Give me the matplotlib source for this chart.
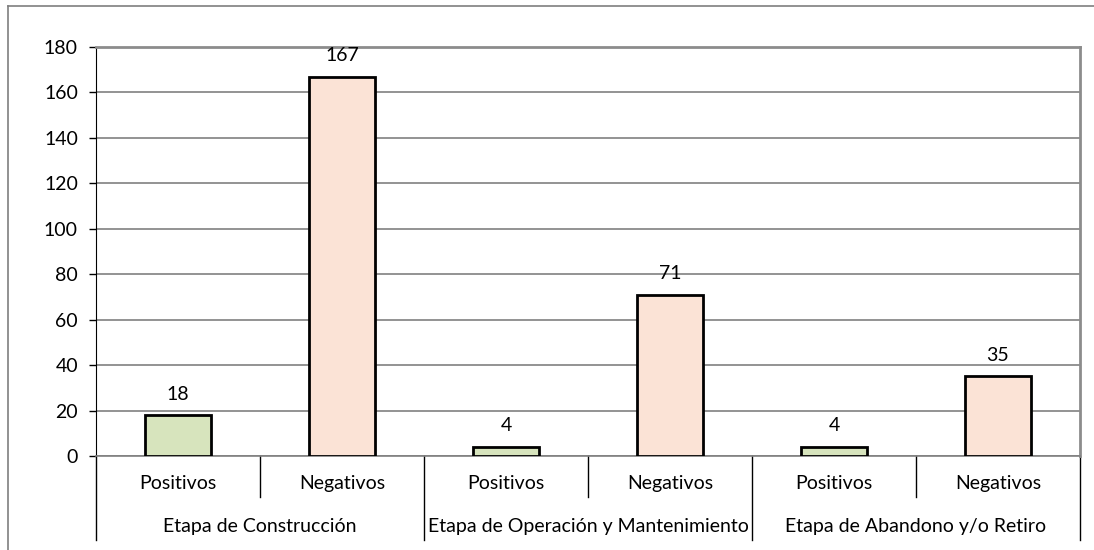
import matplotlib.pyplot as plt
import matplotlib.transforms as mtransforms

stages = ["Etapa de Construcción", "Etapa de Operación y Mantenimiento", "Etapa de Abandono y/o Retiro"]
kinds = ["Positivos", "Negativos"]
positivos = [18, 4, 4]
negativos = [167, 71, 35]
y_ticks = [0, 20, 40, 60, 80, 100, 120, 140, 160, 180]

green = "#D7E4BD"
peach = "#FBE3D6"

plt.rcParams["font.family"] = ["Lato", "DejaVu Sans"]
fs = 14

fig = plt.figure(figsize=(10.94, 5.5), dpi=100)
W, H = 1094, 550
ax = fig.add_axes([96 / W, 1 - 456 / H, (1080 - 96) / W, (456 - 47) / H])

values = []
colors = []
labels = []
for p, n in zip(positivos, negativos):
    values += [p, n]
    colors += [green, peach]
    labels += kinds
xs = list(range(len(values)))

ax.bar(xs, values, width=0.4, color=colors, edgecolor="black", linewidth=2, zorder=3)
for x, v in zip(xs, values):
    ax.annotate(str(v), (x, v), xytext=(0, 9), textcoords="offset points",
                ha="center", va="bottom", fontsize=fs)

ax.set_xlim(-0.5, len(values) - 0.5)
ax.set_ylim(0, 180)
ax.set_yticks(y_ticks)
ax.tick_params(axis="y", labelsize=fs, length=5, width=1, direction="out", pad=8)
ax.yaxis.grid(True, color="#808080", linewidth=1.2, zorder=0)
ax.set_xticks(xs)
ax.set_xticklabels(labels, fontsize=fs)
ax.tick_params(axis="x", length=0, pad=14)

for s in ["top", "right"]:
    ax.spines[s].set_color("#8c8c8c")
    ax.spines[s].set_linewidth(2)
ax.spines["left"].set_color("black")
ax.spines["bottom"].set_color("#808080")
ax.spines["bottom"].set_linewidth(1.2)

# multi-level category separators
trans = mtransforms.blended_transform_factory(ax.transData, ax.transAxes)
for i in range(len(values) + 1):
    x = i - 0.5
    bottom = -0.205 if i % 2 == 0 else -0.1
    ax.plot([x, x], [0, bottom], transform=trans, color="black", linewidth=1, clip_on=False)
for j, stage in enumerate(stages):
    ax.text(2 * j + 0.5, -0.172, stage, transform=trans, ha="center", va="center", fontsize=fs)

# chart area border
fig.add_artist(plt.Line2D([8 / W, 8 / W], [0, 1 - 6 / H], color="#7f7f7f", linewidth=1.2))
fig.add_artist(plt.Line2D([8 / W, 1], [1 - 6 / H, 1 - 6 / H], color="#7f7f7f", linewidth=1.2))

fig.savefig("out.png", dpi=100)
